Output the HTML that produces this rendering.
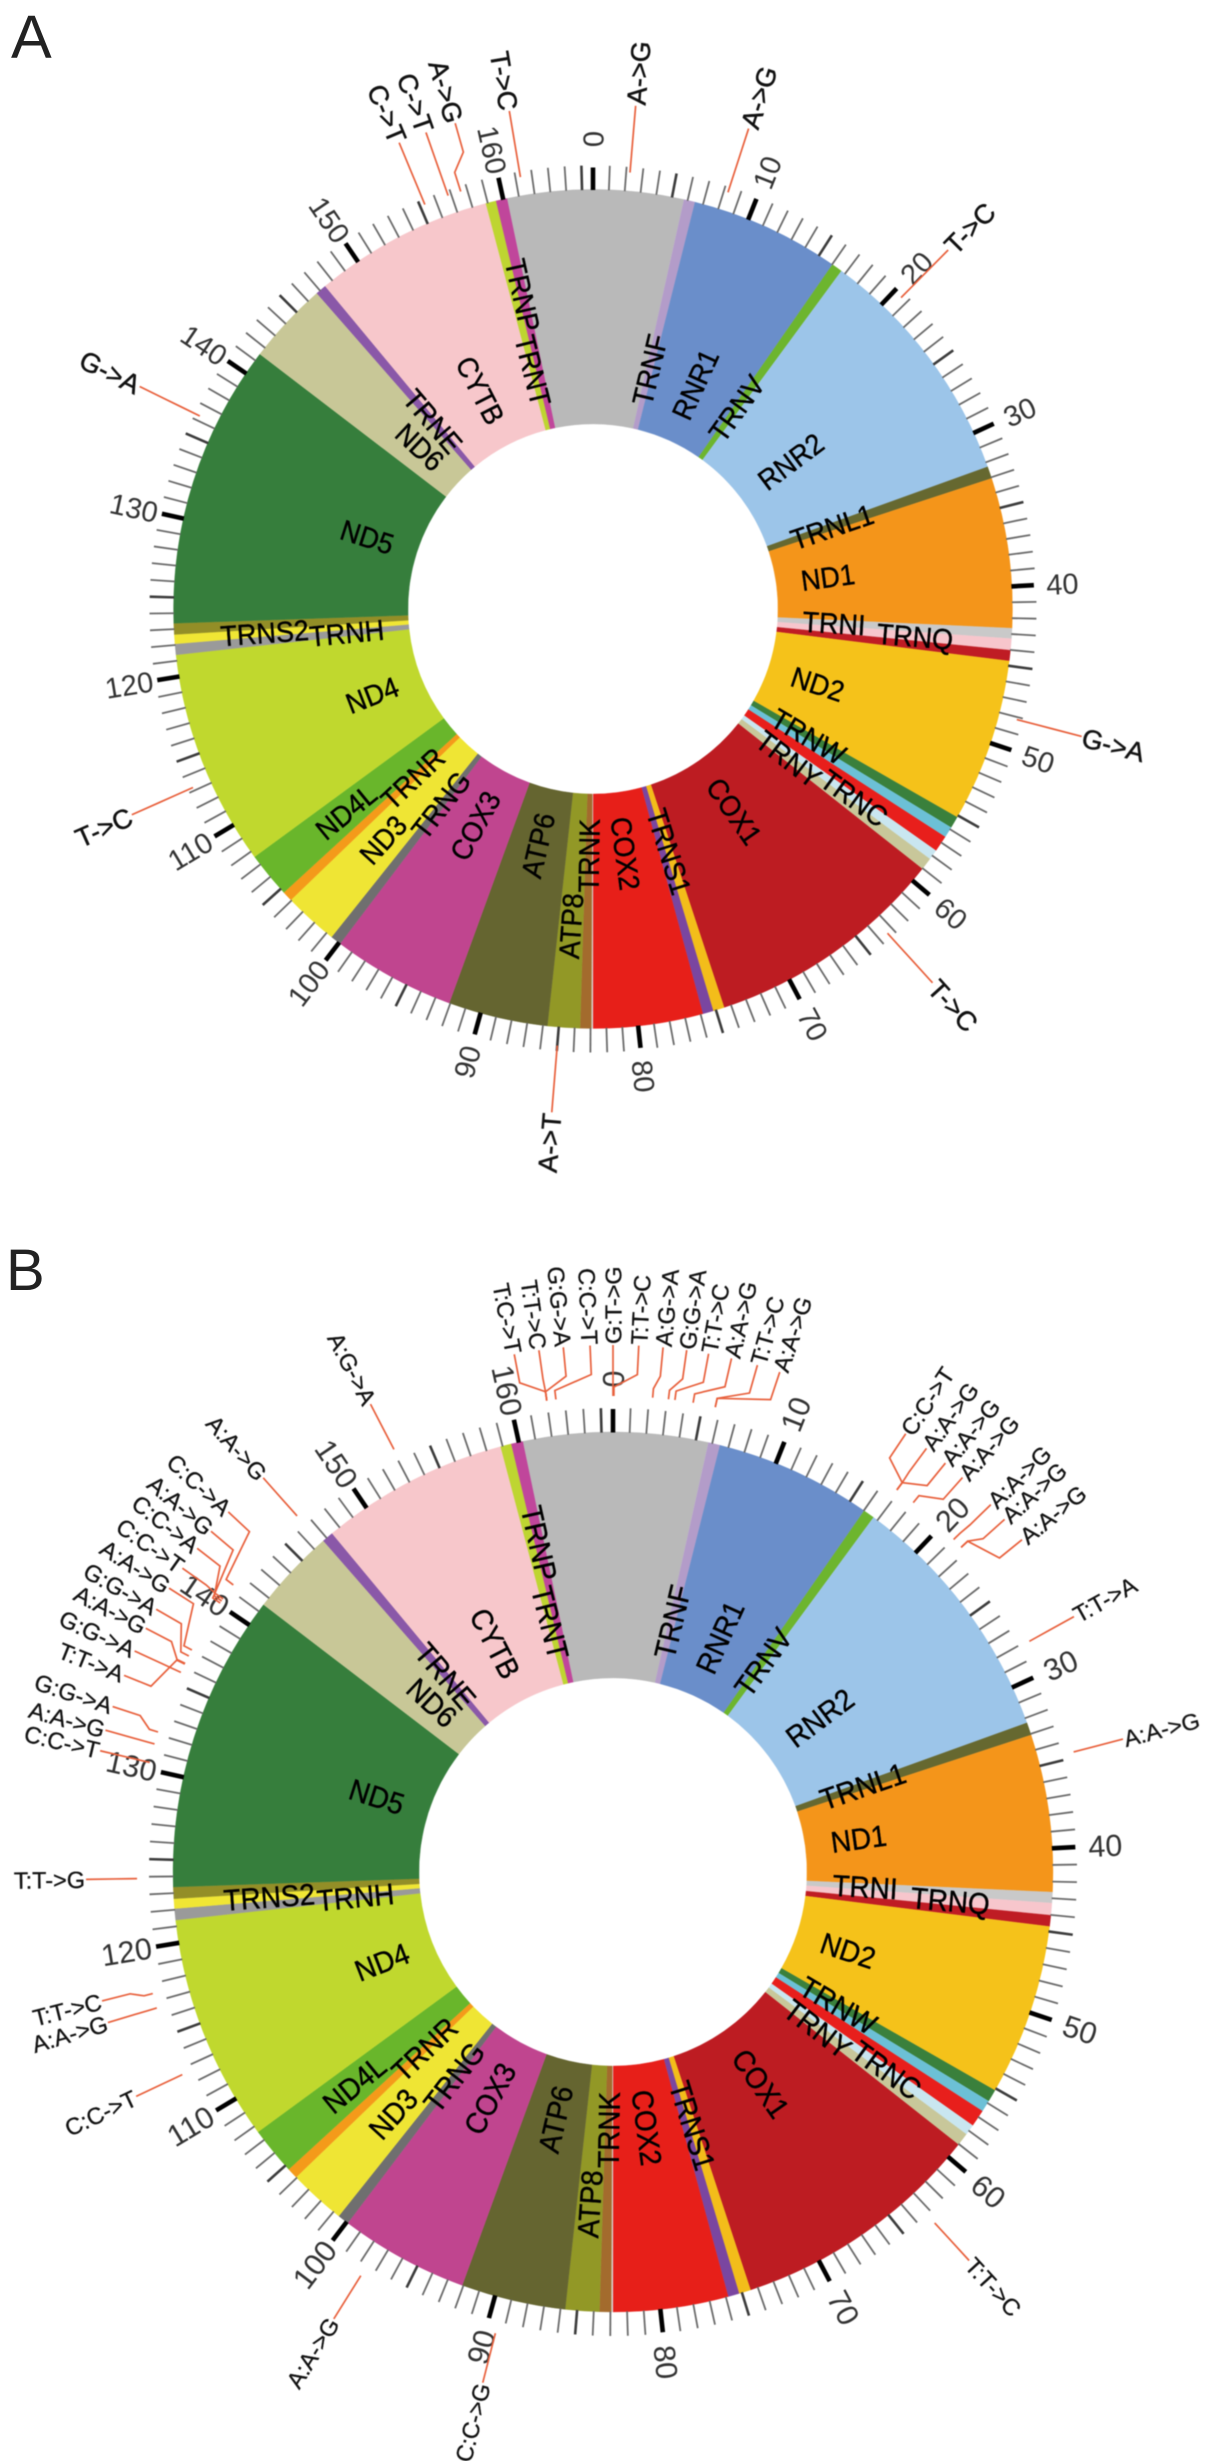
<!DOCTYPE html>
<html lang="en">
<head>
<meta charset="utf-8">
<title>Mitochondrial genome mutation circos plots</title>
<style>
html,body{margin:0;padding:0;background:#fff;}
#figure{display:block;width:1205px;height:2461px;font-family:"Liberation Sans",sans-serif;}
#panelA,#panelB{filter:blur(0.4px);}
</style>
</head>
<body>
<svg id="figure" xmlns="http://www.w3.org/2000/svg" width="1205" height="2461" viewBox="0 0 1205 2461">
  <rect x="0" y="0" width="1205" height="2461" fill="#ffffff"/>
  <text x="11" y="58" font-size="61" fill="#222222">A</text>
  <text x="6" y="1290" font-size="58" fill="#222222">B</text>
  <g id="panelA"></g>
  <g id="panelB"></g>
</svg>
<script>
// Genome annotation: base pair coordinates on the 16569 bp mitochondrial genome
const genomeLengthBp = 16569;
const geneNames = ['', 'TRNF', 'RNR1', 'TRNV', 'RNR2', 'TRNL1', 'ND1', 'TRNI', 'TRNQ', 'TRNM', 'ND2', 'TRNW', 'TRNA', 'TRNN', 'TRNC', 'TRNY', 'COX1', 'TRNS1', 'TRND', 'COX2', '', 'TRNK', 'ATP8', 'ATP6', 'COX3', 'TRNG', 'ND3', 'TRNR', 'ND4L', 'ND4', 'TRNH', 'TRNS2', 'TRNL2', 'ND5', 'ND6', 'TRNE', 'CYTB', 'TRNT', 'TRNP'];
const geneStartBp = [16024, 577, 648, 1602, 1671, 3230, 3307, 4263, 4329, 4402, 4470, 5512, 5587, 5657, 5761, 5826, 5904, 7446, 7518, 7586, 8285, 8295, 8366, 8572, 9207, 9991, 10059, 10405, 10470, 10760, 12138, 12207, 12266, 12337, 14149, 14674, 14743, 15888, 15954];
const geneEndBp = [17145, 648, 1602, 1671, 3230, 3307, 4263, 4329, 4402, 4470, 5512, 5587, 5657, 5761, 5826, 5904, 7446, 7518, 7586, 8285, 8295, 8366, 8572, 9207, 9991, 10059, 10405, 10470, 10760, 12138, 12207, 12266, 12337, 14149, 14674, 14743, 15888, 15954, 16024];
const geneColors = ['#b9b9b9', '#b39cc9', '#6a8eca', '#6db52e', '#9cc5e9', '#666830', '#f4951a', '#c9c9c9', '#f7c6cc', '#bf1c24', '#f5c21a', '#3a803c', '#6cc0d6', '#e81f1c', '#c9e6f0', '#c8c79a', '#bd1c22', '#f3bd1a', '#7a46a0', '#e71f19', '#d8d8d8', '#a36b2d', '#929826', '#656530', '#c0458f', '#6f6f6f', '#efe534', '#f49a1a', '#69b62b', '#c0d82e', '#9a9a9a', '#f0e634', '#938e27', '#367e3c', '#c8c797', '#8a58a8', '#f7c7cb', '#bed531', '#c0469b'];
const outerTierGenes = ['TRNQ', 'TRNC', 'ATP8', 'ND3', 'ND4L', 'TRNS2', 'TRNP'];
const unlabelledGenes = ['TRNM', 'TRNA', 'TRNN', 'TRND', 'TRNL2'];

// Axis: positions are in hundreds of base pairs
const tickCount = 166;
const tickLabels = [0, 10, 20, 30, 40, 50, 60, 70, 80, 90, 100, 110, 120, 130, 140, 150, 160];

// Panel A mutations
const panelAMutationNames = ['A->G', 'A->G', 'T->C', 'G->A', 'T->C', 'A->T', 'T->C', 'G->A', 'C->T', 'C->T', 'A->G', 'T->C'];
const panelAMutationPositions = [2.23, 8.26, 20.57, 48.15, 63.4, 85.0, 113.2, 136.3, 155.3, 156.8, 157.6, 161.3];
const panelALabelPositions = [2.23, 8.26, 20.57, 48.15, 63.4, 85.0, 113.2, 136.3, 155.3, 156.8, 158.4, 161.3];

// Panel B mutations
const panelBMutationNames = ['T:C->T', 'T:T->C', 'G:G->A', 'C:C->T', 'G:T->G', 'T:T->C', 'A:G->A', 'G:G->A', 'T:T->C', 'A:A->G', 'T:T->C', 'A:A->G', 'C:C->T', 'A:A->G', 'A:A->G', 'A:A->G', 'A:A->G', 'A:A->G', 'A:A->G', 'T:T->A', 'A:A->G', 'T:T->C', 'C:C->G', 'A:A->G', 'C:C->T', 'A:A->G', 'T:T->C', 'T:T->G', 'C:C->T', 'A:A->G', 'G:G->A', 'G:G->A', 'T:T->A', 'A:A->G', 'G:G->A', 'A:A->G', 'C:C->A', 'A:A->G', 'C:C->T', 'C:C->A', 'A:A->G', 'A:G->A'];
const panelBMutationPositions = [162.01, 162.01, 162.01, 162.52, 0.0, 0.05, 2.2, 3.08, 3.44, 4.46, 5.71, 5.71, 16.85, 16.85, 16.85, 18.0, 21.03, 21.63, 21.63, 28.08, 34.7, 63.28, 89.43, 97.57, 112.67, 116.63, 117.46, 123.9, 130.39, 131.45, 132.14, 135.68, 136.19, 136.23, 136.69, 137.06, 140.24, 140.1, 140.38, 141.34, 146.55, 153.08];
const panelBLabelPositions = [160.72, 161.97, 163.2, 164.54, 0.0, 1.29, 2.51, 3.7, 4.81, 5.98, 7.32, 8.49, 15.53, 16.8, 18.0, 19.12, 21.08, 22.09, 23.43, 28.08, 34.7, 63.28, 89.43, 97.57, 112.67, 116.63, 117.75, 123.9, 130.39, 131.45, 132.69, 135.68, 134.35, 136.95, 138.03, 139.27, 141.71, 142.81, 140.47, 144.11, 146.55, 153.08];

const SVG_NS = 'http://www.w3.org/2000/svg';

function makeSvg(tag, parent) {
  const el = document.createElementNS(SVG_NS, tag);
  parent.appendChild(el);
  return el;
}

function axisAngle(bp) {
  return 360 * bp / genomeLengthBp;
}

function polar(panel, angle, radius) {
  const rad = angle * Math.PI / 180;
  return [panel.cx + radius * Math.sin(rad), panel.cy - radius * Math.cos(rad)];
}

function normalAngle(angle) {
  return ((angle % 360) + 360) % 360;
}

function textRotation(angle) {
  const a = normalAngle(angle);
  return a < 180 ? a - 90 : a - 270;
}

function placeRadialText(el, panel, angle, radius, anchorAway, squeeze) {
  const a = normalAngle(angle);
  const p = polar(panel, a, radius);
  const x = p[0].toFixed(2);
  const y = p[1].toFixed(2);
  el.setAttribute('x', x);
  el.setAttribute('y', y);
  el.setAttribute('dy', '0.36em');
  let transform = 'rotate(' + textRotation(a).toFixed(2) + ' ' + x + ' ' + y + ')';
  if (squeeze) {
    transform += ' translate(' + x + ' ' + y + ') scale(' + squeeze + ' 1) translate(' + (-x) + ' ' + (-y) + ')';
  }
  el.setAttribute('transform', transform);
  if (anchorAway === 'middle') {
    el.setAttribute('text-anchor', 'middle');
  } else {
    el.setAttribute('text-anchor', a < 180 ? 'start' : 'end');
  }
}

function drawGeneSegments(panel, group) {
  geneNames.forEach(function (name, i) {
    const a0 = axisAngle(geneStartBp[i]);
    const a1 = axisAngle(geneEndBp[i]);
    const large = (a1 - a0) > 180 ? 1 : 0;
    const p0 = polar(panel, a0, panel.rOuter);
    const p1 = polar(panel, a1, panel.rOuter);
    const p2 = polar(panel, a1, panel.rInner);
    const p3 = polar(panel, a0, panel.rInner);
    const path = makeSvg('path', group);
    
    
    path.setAttribute('d',
      'M' + p0[0] + ' ' + p0[1] +
      'A' + panel.rOuter + ' ' + panel.rOuter + ' 0 ' + large + ' 1 ' + p1[0] + ' ' + p1[1] +
      'L' + p2[0] + ' ' + p2[1] +
      'A' + panel.rInner + ' ' + panel.rInner + ' 0 ' + large + ' 0 ' + p3[0] + ' ' + p3[1] + 'Z');
    path.setAttribute('fill', geneColors[i]);
    path.setAttribute('stroke', geneColors[i]);
    path.setAttribute('stroke-width', '0.3');
  });
}

function drawTicks(panel, group) {
  for (let i = 0; i < tickCount; i++) {
    const angle = axisAngle(i * 100);
    const isMajor = i % 10 === 0;
    const isMedium = i % 5 === 0;
    const p0 = polar(panel, angle, panel.rOuter - 0.5);
    const p1 = polar(panel, angle, panel.rOuter + (isMajor ? panel.majorTick : panel.minorTick));
    const line = makeSvg('line', group);
    
    
    line.setAttribute('x1', p0[0]);
    line.setAttribute('y1', p0[1]);
    line.setAttribute('x2', p1[0]);
    line.setAttribute('y2', p1[1]);
    line.setAttribute('stroke', isMajor ? '#000000' : (isMedium ? '#3c3c3c' : '#6b6b6b'));
    line.setAttribute('stroke-width', isMajor ? 4.6 : (isMedium ? 2.6 : 1.8));
  }
  tickLabels.forEach(function (value) {
    const text = makeSvg('text', group);
    
    
    text.textContent = String(value);
    text.setAttribute('font-size', panel.tickFont);
    text.setAttribute('fill', '#333333');
    placeRadialText(text, panel, axisAngle(value * 100), panel.rTickLabel, 'middle');
  });
}

function drawGeneLabels(panel, group) {
  geneNames.forEach(function (name, i) {
    if (!name || unlabelledGenes.indexOf(name) >= 0) {
      return;
    }
    const mid = axisAngle((geneStartBp[i] + geneEndBp[i]) / 2);
    const radius = outerTierGenes.indexOf(name) >= 0 ? panel.rLabelOuter : panel.rLabelInner;
    const text = makeSvg('text', group);
    
    
    text.textContent = name;
    text.setAttribute('font-size', panel.geneFont);
    text.setAttribute('fill', '#000000');
    text.setAttribute('stroke', '#000000');
    text.setAttribute('stroke-width', '0.4');
    placeRadialText(text, panel, mid, radius, 'edge', 0.93);
  });
}

function drawMutations(panel, group, names, positions, labelPositions) {
  names.forEach(function (name, i) {
    const a0 = axisAngle(positions[i] * 100);
    const a1 = axisAngle(labelPositions[i] * 100);
    const pts = [
      polar(panel, a0, panel.rLeader[0]),
      polar(panel, a0, panel.rLeader[1]),
      polar(panel, a1, panel.rLeader[2]),
      polar(panel, a1, panel.rLeader[3])
    ];
    const line = makeSvg('polyline', group);
    
    
    line.setAttribute('points', pts.map(function (p) { return p[0].toFixed(2) + ',' + p[1].toFixed(2); }).join(' '));
    line.setAttribute('fill', 'none');
    line.setAttribute('stroke', '#e8603c');
    line.setAttribute('stroke-width', '1.7');
    const text = makeSvg('text', group);
    
    
    text.textContent = name;
    text.setAttribute('font-size', panel.mutationFont);
    text.setAttribute('fill', '#111111');
    text.setAttribute('stroke', '#111111');
    text.setAttribute('stroke-width', panel.mutationStroke);
    placeRadialText(text, panel, a1, panel.rMutationLabel, 'edge');
  });
}

function drawPanel(panel, group, names, positions, labelPositions) {
  drawGeneSegments(panel, group);
  drawTicks(panel, group);
  drawGeneLabels(panel, group);
  drawMutations(panel, group, names, positions, labelPositions);
}

drawPanel({
  cx: 593, cy: 609, rOuter: 419.5, rInner: 185,
  majorTick: 22, minorTick: 24, rTickLabel: 470, tickFont: 29,
  rLabelInner: 210, rLabelOuter: 285, geneFont: 29,
  rLeader: [438, 458, 475, 505], rMutationLabel: 506, mutationFont: 27, mutationStroke: 0.5
}, document.getElementById('panelA'), panelAMutationNames, panelAMutationPositions, panelALabelPositions);

drawPanel({
  cx: 613, cy: 1872, rOuter: 440, rInner: 194,
  majorTick: 23, minorTick: 24, rTickLabel: 493, tickFont: 30.5,
  rLabelInner: 220, rLabelOuter: 299, geneFont: 30,
  rLeader: [476, 485, 498, 527], rMutationLabel: 528, mutationFont: 23.5, mutationStroke: 0.3
}, document.getElementById('panelB'), panelBMutationNames, panelBMutationPositions, panelBLabelPositions);
</script>
</body>
</html>
